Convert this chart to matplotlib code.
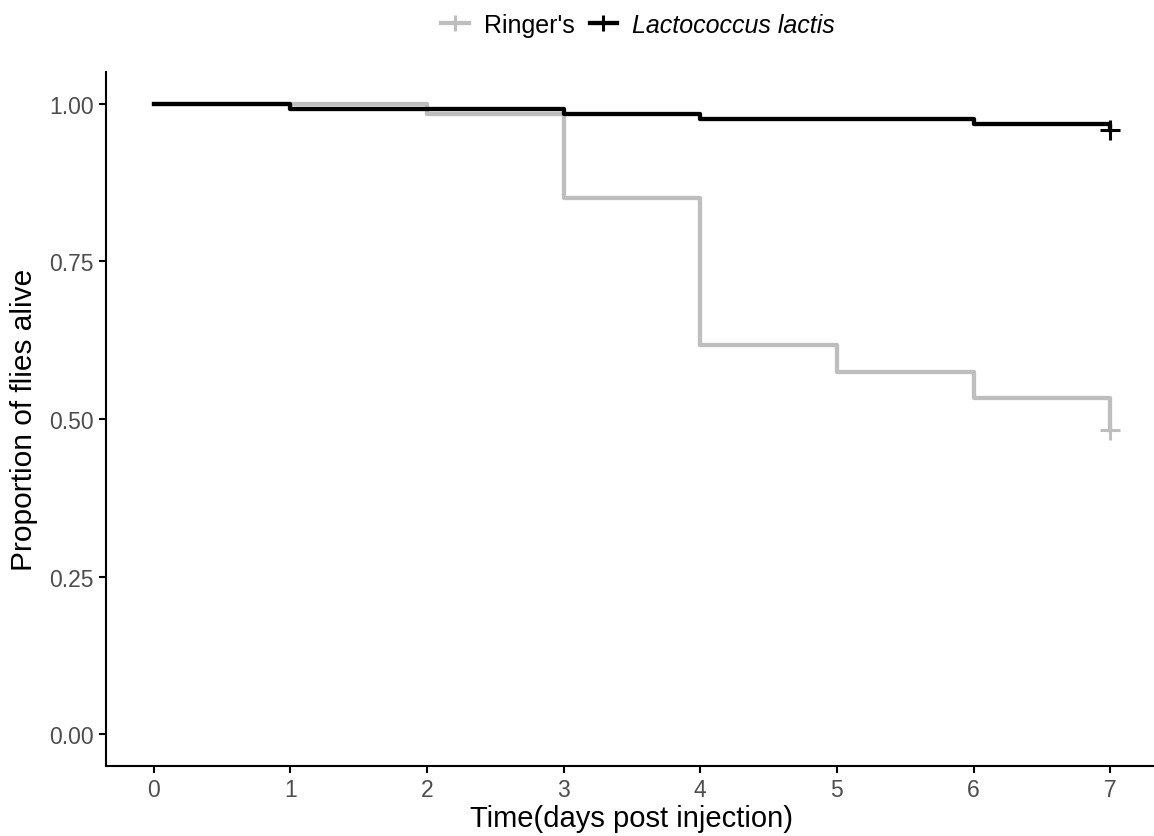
import numpy as np
import matplotlib
matplotlib.use("Agg")
from matplotlib import pyplot as plt
from matplotlib.lines import Line2D

plt.rcParams['font.family'] = ['Liberation Sans', 'DejaVu Sans']

# survival curves
days = [0, 1, 2, 3, 4, 5, 6, 7]
ringers = [1.0, 1.0, 0.983, 0.850, 0.617, 0.575, 0.533, 0.483]
lactis = [1.0, 0.992, 0.992, 0.983, 0.975, 0.975, 0.967, 0.958]
censor_time = 7

grey = "#BEBEBE"

fig = plt.figure(figsize=(11.54, 8.37), dpi=100)
ax = fig.add_axes([106/1154, 1 - 767/837, (1158-106)/1154, (767-73)/837])

ax.step(days, ringers, where="post", color=grey, lw=3.1, solid_joinstyle="round", zorder=2)
ax.plot(censor_time, ringers[-1], marker="+", ms=14, mew=2.2, color=grey, zorder=2)
ax.step(days, lactis, where="post", color="black", lw=3.1, solid_joinstyle="round", zorder=3)
ax.plot(censor_time, lactis[-1], marker="+", ms=14, mew=2.2, color="black", zorder=3)

ax.set_xlim(-0.35, 7.35)
ax.set_ylim(-0.05, 1.05)
ax.set_xticks(range(8))
ax.set_yticks([0, 0.25, 0.5, 0.75, 1.0])
ax.set_yticklabels(["0.00", "0.25", "0.50", "0.75", "1.00"])
ax.tick_params(labelsize=16.5, colors="black", width=1.5, length=5, labelcolor="#4D4D4D", pad=4)
for s in ["top", "right"]:
    ax.spines[s].set_visible(False)
for s in ["left", "bottom"]:
    ax.spines[s].set_linewidth(1.5)

ax.set_xlabel("Time(days post injection)", fontsize=21, labelpad=2)
ax.set_ylabel("Proportion of flies alive", fontsize=21.5, labelpad=8)

handles = [
    Line2D([], [], color=grey, lw=3.1, marker="+", ms=12, mew=2.2),
    Line2D([], [], color="black", lw=3.1, marker="+", ms=12, mew=2.2),
]
leg = fig.legend(handles, ["Ringer's", "Lactococcus lactis"], loc="upper center",
                 bbox_to_anchor=(0.553, 1.01), ncol=2, frameon=False, fontsize=18,
                 handlelength=1.1, columnspacing=0.6, handletextpad=0.6)
leg.get_texts()[1].set_fontstyle("italic")

fig.savefig("out.png", dpi=100)
